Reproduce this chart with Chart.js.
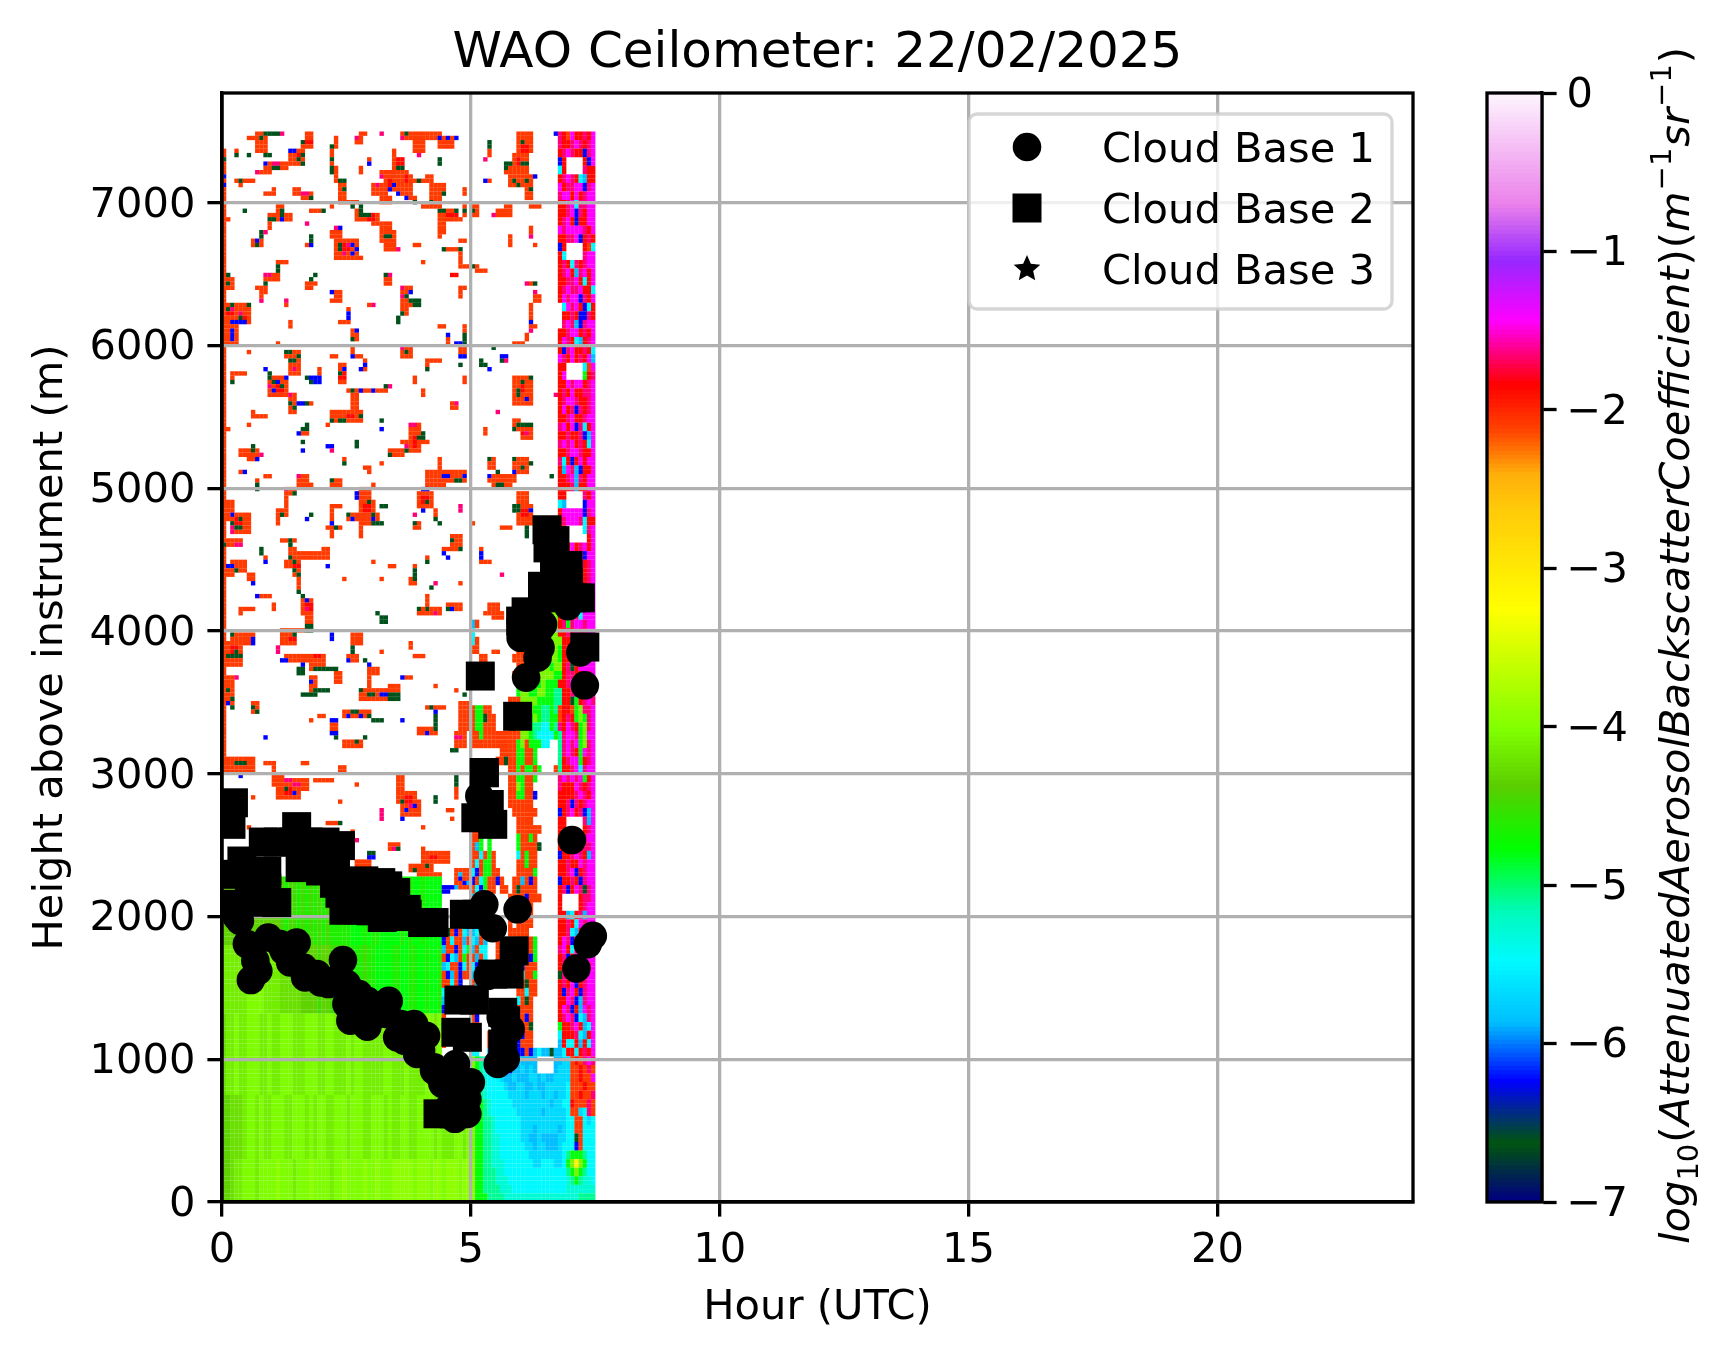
<!DOCTYPE html>
<html><head><meta charset="utf-8">
<style>html,body{margin:0;padding:0;background:#fff}canvas{position:absolute;top:0}</style>
<script src="https://cdn.jsdelivr.net/npm/chart.js@4"></script></head>
<body><canvas id="main" width="1726" height="1358" style="left:0"></canvas>
<canvas id="cbar" width="326" height="1358" style="left:1400px"></canvas>
<script>
// ---- marks ----
const chartTitle = "WAO Ceilometer: 22/02/2025";
const xAxisTitle = "Hour (UTC)";
const yAxisTitle = "Height above instrument (m)";
const legendLabels = ["Cloud Base 1","Cloud Base 2","Cloud Base 3"];
const xTicks = [0,5,10,15,20];
const yTicks = [0,1000,2000,3000,4000,5000,6000,7000];
const colorTicks = [-7,-6,-5,-4,-3,-2,-1,0];
const cloudBase1Hours =   [.58,.73,.5,.93,1.17,1.5,1.37,1.67,1.98,2.43,2.35,2.75,2.5,2.58,2.92,3.35,3.12,3.66,3.86,4.1,4.0,4.26,4.43,4.7,5.0,4.93,4.68,4.43,.36,.29,5.27,5.44,5.94,5.34,7.03,7.45,7.35,7.12,5.54,5.7,5.8,5.6,5.17,7.29,7.2,6.11,6.34,6.4,6.45,6.0,6.95,7.2,6.25,1.91,2.14,1.64,1.24,.67,2.51,2.92,2.72,3.59,3.32,3.72,3.52,3.92,4.26,4.39,4.66,4.93,4.66,4.56,3.86,6.4,6.0];
const cloudBase1Heights = [1555,1620,1807,1853,1807,1818,1678,1573,1538,1695,1573,1457,1387,1270,1228,1410,1317,1130,1247,1165,1060,944,828,967,839,618,583,618,1970,2000,2086,1918,2051,1585,2536,1865,1807,1636,967,1002,1212,1293,2844,3620,3850,3674,3814,3884,4047,4070,4175,4240,4120,1597,1527,1643,1760,1690,1527,1410,1340,1247,1317,1130,1154,1037,921,874,804,723,688,664,1154,4023,3953];
const cloudBase2Hours =   [5.19,5.94,5.27,7.29,6.53,6.69,6.55,6.78,6.68,6.95,6.96,7.2,7.02,6.44,6.68,6.68,6.11,6,5.27,5.37,5.1,5.44,.23,.18,1.5,.83,1.13,1.43,1.73,2.07,.4,.16,2.18,2.28,2.85,3.19,3.33,3.49,2.72,2.45,1.1,.23,.56,.9,1.57,1.98,4.03,3.72,4.26,3.0,3.22,4.87,5.13,5.87,5.77,5.44,4.76,5.07,4.7,4.93,4.34,4.66,5.64,5.64,5.7,2.26,2.37,2.57,2.77,3.51,2.38,1.8,2.25,2.5,2.9,3.3,3.7,.55,.6,.9];
const cloudBase2Heights = [3685,3403,3009,3888,4710,4634,4583,4459,4513,4459,4342,4233,4233,4314,4324,4233,4135,4070,3007,2785,2692,2646,2797,2646,2630,2522,2522,2522,2522,2522,2389,2296,2459,2343,2250,2238,2215,2168,2110,2044,2098,2086,2250,2319,2343,2319,1958,2016,1958,2040,1993,2016,2016,1760,1597,1597,1415,1415,1189,1154,618,618,1329,1107,1270,2233,2163,2047,2047,2000,2497,2430,2360,2200,2150,2100,2050,2100,2150,2200];
const cloudBase3Hours = [];
const cloudBase3Heights = [];

// log10 backscatter class of each letter used in the cell tables
const cellClasses = {O:-2.1,R:-1.88,P:-1.66,M:-1.45,C:-5.5,Q:-5.3,T:-5.1,A:-5.7,S:-5.88,B:-6.25,D:-6.62,G:-4.8,L:-4.1,Y:-3.1};
// green layer levels, digit -> log10 backscatter
const greenLevels = [-4.8,-4.65,-4.5,-4.35,-4.25,-4.15,-4.05,-3.95,-3.85,-3.7];
const heightTop = 7500, heightStep = 30, hourStep = 1/12;

// orange noise patches: [firstCol,lastCol,firstRow,lastRow] (5-min columns, 30 m rows counted from the top)
const orangeCells = [[8,10,0,0],[6,10,1,1],[8,10,2,4],[20,21,0,1],[19,21,2,3],[16,19,4,7],[10,15,7,8],[8,11,9,9],[0,0,4,16],[3,3,4,4],[3,7,11,11],[4,4,12,12],[10,12,14,14],[12,12,13,13],[17,18,13,14],[19,21,14,15],[27,27,1,3],[26,26,4,9],[27,27,8,11],[28,29,11,16],[28,32,16,16],[33,34,0,0],[32,33,1,2],[35,35,6,7],[33,33,8,9],[41,41,4,5],[41,43,6,8],[38,44,9,10],[39,45,10,11],[36,45,12,13],[36,39,14,14],[42,45,14,14],[38,40,15,16],[44,46,15,15],[46,50,11,11],[49,50,10,11],[50,53,12,13],[50,52,14,16],[58,58,13,14],[43,52,0,1],[46,48,2,4],[52,55,1,3],[64,64,4,5],[71,74,0,4],[70,73,5,9],[68,73,8,9],[69,74,10,12],[73,74,13,15],[64,64,11,11],
[26,26,17,17],[21,24,18,18],[13,14,17,20],[11,16,19,20],[11,11,21,22],[9,10,23,23],[7,9,25,26],[0,0,17,50],[1,1,20,20],[20,21,26,26],[32,33,18,20],[34,37,19,20],[36,37,21,21],[38,40,21,24],[38,41,23,25],[39,41,26,27],[40,42,27,27],[26,28,23,24],[27,32,25,29],[33,33,29,29],[46,47,26,26],[48,48,30,30],[52,55,18,20],[55,57,20,20],[48,52,17,17],[52,53,21,23],[52,52,24,24],[58,58,17,19],[60,61,17,19],[57,58,25,25],[53,57,27,27],[57,57,28,30],[57,61,31,31],[61,63,32,32],[66,69,18,19],[68,69,17,18],[69,69,24,26],[74,74,22,24],[75,75,26,26],[74,76,17,17],
[13,15,30,30],[10,13,33,34],[8,10,36,36],[9,10,37,37],[9,9,38,39],[1,2,34,36],[20,21,35,36],[22,22,35,35],[27,28,37,39],[26,26,39,39],[39,40,33,35],[55,56,33,33],[43,45,36,37],[43,44,38,42],[45,47,40,40],[57,58,36,36],[57,57,37,38],[74,74,35,35],[75,76,38,39],[74,74,40,43],[74,75,45,45],[73,73,47,48],[70,72,49,49],[30,30,41,41],[28,30,44,44],[35,36,40,40],[16,16,44,45],[15,15,40,40],[0,6,40,44],[0,3,45,49],[13,13,49,49],[31,32,46,48],[52,53,45,45],[58,58,45,49],[54,54,48,49],
[6,6,51,51],[15,18,51,52],[16,18,53,56],[26,27,52,52],[31,31,50,51],[32,33,52,52],[34,34,53,55],[43,45,50,52],[49,52,53,53],[49,49,54,54],[57,58,50,51],[28,29,54,58],[23,23,55,56],[2,5,56,56],[2,2,57,58],[11,15,57,61],[46,46,57,58],[58,58,57,58],[70,74,57,63],[30,39,60,60],[31,32,61,65],[26,33,65,67],[16,17,61,65],[18,21,63,63],[48,48,60,61],[55,56,63,64],[7,7,65,66],[8,10,66,66],[6,6,68,68],[25,25,68,68],[45,47,68,69],[45,47,70,74],[70,71,67,69],[72,74,69,71],[63,63,69,70],[0,1,69,69],[19,20,69,70],[4,6,74,74],[0,0,51,83],
[4,8,74,75],[6,8,75,76],[40,43,74,75],[43,49,72,72],[29,29,76,76],[38,38,77,77],[34,35,78,78],[35,35,79,79],[4,4,79,79],[10,11,80,80],[18,20,80,81],[18,21,82,82],[26,28,81,82],[36,36,82,82],[8,8,81,81],[52,52,76,79],[49,58,79,81],[49,53,82,82],[64,65,76,78],[64,70,80,81],[65,69,82,82],[70,73,76,79],
[15,17,83,84],[33,35,83,86],[33,36,86,90],[30,37,89,90],[33,33,92,94],[33,38,91,91],[47,50,84,87],[51,51,88,89],[0,2,86,88],[2,6,89,93],[1,1,88,90],[15,15,85,87],[13,15,88,89],[13,13,90,91],[26,28,87,87],[26,26,88,90],[25,28,92,92],[26,26,93,94],[46,47,91,92],[60,60,91,91],[67,69,92,92],[71,73,84,86],[71,74,87,91],[14,17,95,95],[16,17,97,98],[16,25,98,99],[24,25,97,98],[15,18,100,101],[17,18,102,103],[0,4,95,96],[10,10,99,99],[2,5,100,102],[0,2,101,103],[6,7,103,104],[36,36,100,100],[40,41,101,101],[49,49,99,99],[46,46,101,101],[45,46,104,105],[29,29,104,104],[38,38,104,104],[55,57,94,96],[53,56,97,97],[62,62,97,97],[62,64,100,100],[57,57,105,105],[49,49,108,112],[47,52,111,112],[54,57,110,111],[18,18,104,107],[19,21,109,112],[20,21,112,116],[9,11,108,108],[4,7,111,111],[4,4,112,112],[12,12,110,111],[64,66,110,112],[63,65,112,112],[14,21,116,116],[0,0,84,149],
[2,7,117,119],[1,4,119,124],[0,2,127,133],[14,17,117,119],[31,33,117,119],[30,32,122,123],[38,38,121,121],[45,45,119,120],[46,48,122,122],[15,24,122,123],[21,24,124,125],[27,28,126,128],[21,22,127,130],[35,37,125,126],[35,35,126,130],[33,42,130,132],[40,42,129,130],[44,45,127,127],[51,51,129,129],[56,56,130,130],[57,59,133,139],[56,58,140,143],[49,53,134,134],[47,51,139,140],[23,24,136,136],[21,21,137,137],[26,27,138,139],[29,35,135,136],[36,38,137,137],[29,33,142,143],[1,7,146,149],[1,4,148,148],[10,12,147,147],[12,12,148,149],[19,20,147,147],[28,29,148,149],[7,8,133,135],[65,66,121,121],
[12,14,150,152],[15,20,151,153],[13,18,153,155],[22,26,151,151],[7,7,155,155],[28,28,156,156],[32,32,152,152],[42,43,150,154],[42,46,154,156],[43,47,156,159],[48,48,162,162],[54,55,158,158],[55,55,160,160],[56,56,153,155],[6,6,162,162],[25,28,161,161],[31,31,163,163],[32,35,170,171],[32,33,172,172],[40,42,166,167],[48,48,167,168],[48,54,168,170],[45,50,171,172],[47,52,173,176],[56,59,172,176]];
const redCells = [[20,21,2,2],[18,18,5,6],[42,43,6,7],[40,40,11,13],[44,44,10,11],[72,73,3,4],[71,71,6,7],[35,36,19,20],[29,30,26,27],[54,56,19,19],[55,56,33,33],[1,2,41,42],[5,5,43,43],[28,29,56,57],[13,14,59,60],[72,72,59,60],[30,31,66,66],[46,46,71,73],[72,73,70,70],[34,35,87,88],[48,49,85,86],[3,4,90,91],[72,73,88,89],[17,18,101,101],[20,21,110,111],[16,17,118,118],[2,3,120,121],[22,23,122,122],[35,36,131,131],[4,5,147,147],[15,16,153,154],[44,45,155,156],[50,51,169,169]];
const darkCells = [[10,0],[11,0],[12,0],[13,0],[9,1],[10,5],[11,5],[19,2],[19,5],[18,6],[19,7],[12,8],[13,8],[3,5],[4,11],[26,3],[26,6],[26,8],[26,9],[28,11],[29,11],[29,13],[44,0],[42,8],[43,8],[47,11],[46,16],[53,14],[50,16],[52,6],[52,7],[64,2],[64,3],[72,2],[68,7],[69,7],[68,8],[70,11],[71,12],[73,11],[74,13],[72,7],[73,7],[21,15],[6,5],[0,6],
[5,18],[24,18],[14,18],[14,19],[11,20],[12,20],[9,23],[9,24],[8,26],[21,24],[21,25],[31,17],[33,17],[33,18],[33,19],[34,19],[35,19],[39,24],[40,24],[28,26],[28,27],[52,18],[53,18],[56,18],[58,18],[60,18],[53,27],[57,27],[60,31],[13,31],[13,32],[10,35],[1,33],[1,35],[22,33],[21,34],[39,33],[44,38],[45,39],[46,39],[47,39],[46,40],[47,40],[43,42],[42,43],[42,44],[2,40],[6,40],[1,41],[4,43],[31,48],[58,49],[58,47],[58,48],[75,35],[65,50],
[15,51],[16,51],[18,52],[16,53],[17,53],[44,51],[49,55],[57,54],[62,53],[62,54],[63,54],[67,53],[28,56],[11,56],[2,58],[11,57],[12,58],[14,59],[20,57],[21,58],[72,58],[74,57],[71,60],[71,61],[31,60],[39,59],[26,67],[28,67],[29,67],[33,66],[16,63],[17,64],[20,63],[38,67],[20,68],[19,69],[20,69],[47,71],[48,71],[48,70],[71,68],[72,68],[73,68],[74,68],[70,69],[19,72],[32,72],[32,73],[44,74],[7,74],[7,73],
[40,75],[44,73],[29,77],[26,81],[8,82],[8,83],[56,81],[57,81],[64,76],[66,79],[66,82],[67,82],[70,76],[72,78],[74,77],[79,80],[17,84],[35,86],[36,89],[30,89],[36,91],[37,91],[38,91],[38,87],[39,87],[49,86],[51,90],[4,90],[2,91],[3,92],[4,92],[14,89],[21,89],[27,92],[46,91],[52,91],[70,87],[71,87],[70,88],[71,88],[73,92],[73,93],[73,94],[16,95],[16,96],[16,99],[17,100],[17,102],[18,103],[3,102],[0,96],[9,97],[9,98],[49,100],[46,102],[46,103],[46,104],[55,95],[57,97],[50,106],[47,111],[49,111],[54,111],[18,107],[19,108],[20,115],[21,115],[20,116],[21,116],[37,112],[38,113],[39,113],[38,114],[39,114],
[2,117],[3,121],[1,122],[2,122],[3,122],[4,122],[1,130],[2,132],[2,134],[17,117],[31,120],[31,121],[18,125],[19,125],[22,125],[23,125],[24,125],[25,125],[26,125],[27,125],[18,126],[19,126],[22,130],[23,130],[24,130],[25,130],[19,131],[20,131],[21,131],[22,131],[34,123],[33,130],[35,131],[36,131],[40,131],[41,131],[42,131],[40,132],[41,132],[42,132],[58,131],[50,134],[51,136],[51,137],[51,138],[51,139],[55,144],[56,144],[7,134],[8,135],[31,135],[32,135],[35,136],[27,141],[34,141],[32,142],[3,147],[4,147],[5,147],[36,137],[37,137],[38,137],
[15,153],[43,156],[51,155],[51,156],[56,150],[56,151],[56,152],[28,161],[31,164],[35,168],[36,168],[42,167],[46,172],[49,171],[48,174]];
const blueCells = [[16,4],[17,4],[10,7],[52,1],[54,1],[56,1],[41,12],[40,13],[42,14],[44,15],[75,10],[63,11],[80,0],[0,10],[0,12],[35,7],[14,20],[8,25],[21,26],[28,22],[31,26],[32,27],[31,28],[45,37],[26,37],[30,42],[30,43],[74,44],[2,44],[3,44],[4,44],[5,44],[2,46],[2,47],[2,48],[32,46],[54,47],[56,49],[57,49],
[31,52],[34,54],[33,55],[57,52],[58,52],[64,55],[67,52],[68,52],[29,55],[10,55],[13,58],[15,57],[12,60],[21,57],[22,57],[23,57],[22,58],[23,58],[73,62],[33,60],[36,60],[18,63],[19,63],[38,69],[18,70],[25,73],[8,76],[19,74],[26,73],[5,79],[53,80],[54,80],[58,80],[64,80],[70,79],[32,84],[32,85],[31,90],[36,90],[48,83],[49,83],[48,88],[2,89],[20,90],[26,91],[74,88],[25,101],[10,100],[1,101],[2,101],[7,105],[53,98],[54,99],[62,98],[62,99],[8,108],[20,109],[55,111],
[7,118],[7,119],[26,117],[26,118],[30,123],[14,123],[15,123],[19,124],[21,128],[35,124],[38,131],[39,131],[43,127],[1,133],[51,135],[49,140],[26,137],[27,137],[26,140],[27,140],[30,136],[33,136],[43,137],[10,141],[4,150],[17,154],[44,158],[46,157],[43,160],[35,169],[36,169],[52,176],[53,176],[54,176],[55,176],[52,177],[53,177],[54,177],[45,175],[44,176],[57,174],[58,175]];
const pinkCells = [[14,0],[13,7],[12,7],[8,9],[32,1],[43,1],[47,5],[63,6],[38,10],[37,12],[38,0],[19,14],[20,14],[20,21],[10,23],[65,19],[74,24],[30,26],[29,28],[42,27],[27,22],[10,33],[11,33],[9,39],[40,33],[43,36],[43,38],[73,35],[75,37],[36,40],[15,39],[2,41],[4,42],[74,46],[43,50],[17,55],[68,53],[11,59],[40,59],[80,61],[16,61],[66,65],[45,68],[46,68],[44,73],[73,70],[56,63],[9,75],[26,74],[18,80],[15,83],[46,89],[57,87],[57,88],[2,92],[2,93],[3,96],[4,96],[67,103],[51,105],[51,112],[20,111],[3,127],[13,120],[13,121],[56,141],[57,141],[15,151],[16,151],[17,152],[18,152],[45,157],[41,167],[38,158],[38,159],[38,160],[32,165]];
const cyanCells = [[44,174],[45,174],[46,174],[44,175],[46,176],[49,175],[50,174],[57,173],[59,175],[56,176]];

// dense strip: 2-row bands, columns 81..89, rows 0..110
const stripBands = ["PROMRRPRM","PRRPMPRPM","RPMPRRBPM","BR    RBM","CR    PRR","RPMPRCSRR","MRPPMMBPM","PMMRMRPMM","RRPMCPPMM","RRPMBPRMM","RPMRBRRMM","MPMMMMPRM","RRPPMBRPR","BR    ROC","RC    PMM","RPRCPRPMM","RPMRSPMRM","RRPPMRCRM","RPMPPMRRC","RMPMMBPRM"," CMPMRBCR"," RRPRBBPR"," PMPSBPMM","RRPMMRPRM","RMPRCSRPM","RBPMRRPRC","MPRMRPRMS","RR    COM","RM    GRP","RRMPMMRPM","RPRMRRPPM","RPMMPRRPM","RMRPBPRPM","RRPMRRPMM","PMRMBPCRM","RRPRRPBSM","PMPMRPRCM","RRPMMPRRM","PCRBRMRMM","RSMPSBRRM","RRPMSPRMM","RRRPSRRMM","RR    PRM","CS    BMM","RMMMMMBPM","RPMMMPCRR","RR    CPM","RP     RM","PMRMRPMRM","RMPMPPBMM","RPMPMBRPM","RPMRPRRPM","MPRRPMRPM","RPRMPPRMM","RPMPBRMMM","RMPRPSRMM"];
// mixed area: 2-row bands from row 112 to 214; columns 60..80 | columns 81..89
const mixedBands = ["     OOO   OR   GG LL|RRPDPCMMM","SO         OR    GLLL|RPGPMMPMM","C           O    LLLL|RRPRMPPMM","CO         PO   LLLLL|LRRDDBPMM","OO         OOG  GLLLL|GRRPMSRPM","  OO      OOOT  LLLLL|GRRPMCPRM","           OOO GLLLGL|LRPDRMMMM","          OOOOGGLLLLG|GRPPRRMPM","           OOGGLGLGGG|RRPMPRMMM","           GLLGGLLGGT|TRRPBSMPM","         OOOLLLLGGGGT|TRRDGRPMP","OGGOO   OOOLLLLGGTTGT|ORROGLPPM","OGGDOO   OOLLGGLGTTGG|ORPRGLGPM","OGGOOO   OOLGLGTTCCGT|PRMPRGLPM","OOGOOOOOOOOOLLGTCCCCG|TPMMPGLMM","OOOOOOOOOOOGLOGGGCC  |TPMPMGLPM","       OOOOGGOOG     |TPMPRGMPM","      OODOOGGOOG     |TRPMMGRPM","OO       OOGOGGOG   O|TRRPMCPMM","OOG      OOGGOOG     |PMPMPMGRM","OOG      OOLGOO      |PRRRMPRPM","OGO      OOGGOOB     |RRRRPMPRM","OG O     OOOOOO      |RRPBPRPMM","OSOO      OOOOOO     |BRPMRPBSM","OO         OOOO      |RR    PSM","OOG        OOOOOO    |RR    RPM","OOG G      GOOGO     |RR    PMM","OSG G      GOOOOD    |RRPMMRPPM","OOCOGO     COGOO     |BRRPMPRSM","OCOGGO     OOGOO     |RRPRRMPMM","CBOGGOO    OOOOG     |RRPMBRPMM","BOCGOOBO  OOSOBO     |BRRPRBPMM","OCBGOO OO ODOOOO     |RPBRMPDPM","SOCG     OOOOBOOO    |R    RPPM","OSG      OOGOOO      |R    RPMM","COS      OOOO O      |RRSCRPSMM","SOBS OOO O OOOO      |RRPRCMPMM","SCOS OO  OOOOO       |RRPCSRCPM","CSOS  O    OOOOG     |RMPBRCPRM","SOCC  OOO  ODOOG     |PMRCPRSMM","OSOC  OOO  OOOBG     |RPBRMDPMM","CBOSO      OBOOO     |RPMBPRBPM","SCOO       OCOOG     |DPMMBPRMM","OS B       BODOO     |RPRMBRPMM","OCCO       OOCOO     |RBPMRBPMM","DSOB       CODO      |RRMPBSPMM","OO         OOOO      |RMPBRSMPM","OB         OOBO      |RPMPBCSPM","OO         OOOD      |GRRPMRSCM","OS  O      CBOO      |CRRRPCSRM","OB  O      BOOO      |SRCCRSRCM","CC  S     OBBOBSCSSDS|SCRRCRPRM"];
// mix beside the green layer: 2-row bands from row 186, columns 52..59
const edgeBands = ["OODOBOCS","OBOCOOSO","OSOOBOCG","COBCSOGO","OSCOOBCO","OOBSOBOO","BOOCOB  ","OCBOOS  ","OSOB    ","CB      ","CO      ","OB      ","OO      ","CO      "];
// low-level field: 2-row bands from row 216 to 248, columns 61..89
const lowFieldBands = ["GTCCCASSSSASSSS    SSAAOROPMP","GTCCCASSBSSASAS    SAAAOOROPO","GTQCCCASSASSSAASASSAAAAOOROOM","GTQCCCCASSAASSASSAAAAACOOOROO","GTQCCCCCAAAASAAASAASAACOOROOP","GGTQCCCCCAAAAAAAAASAACCROOOPO","GGTQCCCCCCAAAAAASAAAAACOOACPO","GGTTQCCCCCCAAAAAAAAAAACCOOCAC","GGTTQCCCCCCAAASAAAAASACCOOCCC","GGTTQQCCCCCAASSASSSSAACCDOCCC","GGTTQQCCCCCCAASAASSSACCCBOCCC","GGTTQQCCCCCCCAAAAAAAACTGGGTCC","GGTTQQQCCCCCCCAACCCAACGLYLGCC","GGTTTQQCCCCCCCCCCCCCCCTGLGTCC","GGTTTQQQCCCCCCCCCCCCCCQTGTQQC","GGTTTTQQQCCCCCCCCCCCCCQQQQQQQ","GGGTTTTQQQQQQQQQQQQQQQQQQTTTT"];
// green layer: digit per 5-min column, one string per height band
const greenBandRows = [[174,189],[190,205],[206,224],[225,239],[240,249]];
const greenBands = [
"33333333333333212212121212111110001011000001010010000",
"55555566665555444443333233222211112110000110011001001",
"4556556665565566655566655665556566555556655565555665666666666",
"3344456656556665566656566556665666556665655665566665655566566",
"3345566656666766656667666656676666766766677777677767767776777"];

// gist_ncar colour stops: [log10, r, g, b]
const colorStops = [[-7,0,0,128],[-6.64,0,85,15],[-6.25,0,0,255],[-5.88,0,190,255],[-5.49,0,250,255],[-5.19,0,250,190],[-4.78,0,255,0],[-4.39,90,205,0],[-4.03,128,255,0],[-3.27,255,255,0],[-2.62,255,200,10],[-2.42,255,175,10],[-2.15,255,70,0],[-1.85,255,0,0],[-1.45,255,0,255],[-1.07,150,40,255],[-0.71,235,130,235],[0,254,248,254]];
function colorOf(v){
  for(let i=1;i<colorStops.length;i++){
    if(v<=colorStops[i][0]){const a=colorStops[i-1],b=colorStops[i],f=(v-a[0])/(b[0]-a[0]);
      return `rgb(${Math.round(a[1]+f*(b[1]-a[1]))},${Math.round(a[2]+f*(b[2]-a[2]))},${Math.round(a[3]+f*(b[3]-a[3]))})`;}
  }
  return 'rgb(254,248,254)';
}
// ---- build the cell table from the tables above ----
const cells = new Map();
const setCell=(c,r,v)=>{ if(c>=0&&c<90&&r>=0&&r<250) cells.set(c+','+r,v); };
function addRects(list,v){ for(const q of list){ if(q.length===2) setCell(q[0],q[1],v); else for(let c=q[0];c<=q[1];c++)for(let r=q[2];r<=q[3];r++) setCell(c,r,v);} }
addRects(orangeCells,cellClasses.O); addRects(redCells,cellClasses.R); addRects(darkCells,cellClasses.D); addRects(blueCells,cellClasses.B); addRects(pinkCells,cellClasses.P); addRects(cyanCells,cellClasses.S);
function addBands(bands,firstRow,firstCol){ bands.forEach((s,i)=>{ for(let k=0;k<s.length;k++){ const v=cellClasses[s[k]]; if(v!==undefined){ setCell(firstCol+k,firstRow+2*i,v); setCell(firstCol+k,firstRow+2*i+1,v);} } }); }
addBands(stripBands,0,81);
addBands(mixedBands.map(s=>{const [a,b]=s.split('|');return a.padEnd(21,' ')+b;}),112,60);
addBands(edgeBands,186,52);
addBands(lowFieldBands,216,61);
greenBands.forEach((s,i)=>{ const [r0,r1]=greenBandRows[i]; for(let c=0;c<s.length&&c<61;c++){ if(c>52&&r1<216) continue; for(let r=(c>52?Math.max(r0,216):r0);r<=r1;r++) setCell(c,r,greenLevels[+s[c]]); } });
const heatPoints=[], heatColors=[];
for(const [k,v] of cells){ const [c,r]=k.split(',').map(Number); heatPoints.push({x:(c+.5)*hourStep,y:heightTop-heightStep*(r+.5)}); heatColors.push(colorOf(v)); }
const zip=(xs,ys)=>xs.map((x,i)=>({x,y:ys[i]}));

const FONT="'DejaVu Sans'", FS=41.6, LW=3.3, TL=14.6;
Chart.defaults.font.family=FONT; Chart.defaults.color='#000'; Chart.defaults.animation=false;

// tick labels: matplotlib centres digits on the tick, Chart.js centres the em box
const nudgeLabels={id:'nudgeLabels',beforeDraw(ch){const s=ch.scales.y; if(s&&!s._nudged){s.getLabelItems().forEach(it=>{it.options.translation[1]+=3;});s._nudged=true;}}};
const underlay={id:'underlay',
  beforeDraw(ch){const c=ch.ctx;c.save();c.fillStyle='#fff';c.fillRect(0,0,ch.width,ch.height);c.restore();
    c.save();ch.getDatasetMeta(0).controller.draw();c.restore();},
  beforeDatasetDraw(ch,a){ if(a.index===0) return false; },
  afterDraw(ch){const c=ch.ctx,a=ch.chartArea;
    c.save();c.strokeStyle='#000';c.lineWidth=LW;c.strokeRect(a.left,a.top,a.right-a.left,a.bottom-a.top);
    // legend
    c.fillStyle='rgba(255,255,255,.8)';c.strokeStyle='rgba(204,204,204,.8)';c.lineWidth=LW;
    c.beginPath();c.roundRect(969,114,423,195,8);c.fill();c.stroke();
    c.fillStyle='#000';c.font=FS+"px "+FONT;c.textBaseline='alphabetic';c.textAlign='left';
    const ys=[147,208,269];
    legendLabels.forEach((t,i)=>c.fillText(t,1102,ys[i]+15));
    c.beginPath();c.arc(1027,ys[0],14.3,0,Math.PI*2);c.fill();
    c.fillRect(1012.5,ys[1]-14.5,29,29);
    c.beginPath();for(let i=0;i<10;i++){const R=i%2?6.5:14,th=-Math.PI/2+i*Math.PI/5;c.lineTo(1027+R*Math.cos(th),ys[2]+R*Math.sin(th));}c.closePath();c.fill();
    c.restore();}
};
new Chart(document.getElementById('main'),{type:'scatter',
  data:{datasets:[
    {label:'Backscatter',data:heatPoints,backgroundColor:heatColors,pointBackgroundColor:heatColors,pointStyle:'rect',pointRadius:3.1,pointBorderWidth:0,parsing:false,normalized:true},
    {label:legendLabels[0],data:zip(cloudBase1Hours,cloudBase1Heights),pointStyle:'circle',pointRadius:14.3,pointBackgroundColor:'#000',pointBorderWidth:0},
    {label:legendLabels[1],data:zip(cloudBase2Hours,cloudBase2Heights),pointStyle:'rect',pointRadius:20.5,pointBackgroundColor:'#000',pointBorderWidth:0},
    {label:legendLabels[2],data:zip(cloudBase3Hours,cloudBase3Heights),pointStyle:'star',pointRadius:14,pointBackgroundColor:'#000',pointBorderWidth:0}
  ]},
  options:{responsive:false,animation:false,devicePixelRatio:1,
    layout:{padding:{left:0,right:313,top:0,bottom:0}},
    events:[],
    plugins:{legend:{display:false},tooltip:{enabled:false},
      title:{display:true,text:chartTitle,fullSize:false,font:{size:50,weight:'normal',family:FONT},color:'#000',padding:{top:24,bottom:9}}},
    scales:{
      x:{type:'linear',min:0,max:23.93,afterFit(s){s.height=156;},afterBuildTicks(s){s.ticks=xTicks.map(v=>({value:v}));},
        ticks:{maxRotation:0,autoSkip:false,padding:10,font:{size:FS,family:FONT},color:'#000',callback:v=>String(v)},
        grid:{color:'#b0b0b0',lineWidth:LW,tickLength:TL,tickWidth:LW,tickColor:'#000'},border:{color:'#000',width:LW},
        title:{display:true,text:xAxisTitle,font:{size:FS,family:FONT},color:'#000',padding:{top:0,bottom:25}}},
      y:{type:'linear',min:0,max:7770,afterFit(s){s.width=222;},afterBuildTicks(s){s.ticks=yTicks.map(v=>({value:v}));},
        ticks:{autoSkip:false,padding:12,font:{size:FS,family:FONT},color:'#000',callback:v=>String(v)},
        grid:{color:'#b0b0b0',lineWidth:LW,tickLength:TL,tickWidth:LW,tickColor:'#000'},border:{color:'#000',width:LW},
        title:{display:true,text:yAxisTitle,font:{size:FS,family:FONT},color:'#000',padding:{top:26,bottom:0}}}
    }},
  plugins:[nudgeLabels,underlay]});

// ---- colour bar ----
const barSegments=[]; const barLevels=256;
for(let i=0;i<barLevels;i++){const a=-7+7*i/barLevels,b=-7+7*(i+1)/barLevels;
  barSegments.push({label:'level'+i,data:[[a,Math.min(0,b+0.01)]],backgroundColor:colorOf((a+b)/2),borderWidth:0,barPercentage:1,categoryPercentage:1,grouped:false});}
const cbLabel={id:'cbLabel',afterDraw(ch){const c=ch.ctx,a=ch.chartArea;
  c.save();c.strokeStyle='#000';c.lineWidth=LW;c.strokeRect(a.left,a.top,a.right-a.left,a.bottom-a.top);
  c.translate(289,1244);c.rotate(-Math.PI/2);c.fillStyle='#000';c.textBaseline='alphabetic';c.textAlign='left';
  if('fontKerning' in c) c.fontKerning='none';
  const it="italic "+FS+"px "+FONT,up=FS+"px "+FONT,sm="29px "+FONT;
  const segs=[['log',it,0,0],['10',sm,9,1],['(',up,0,1],['AttenuatedAerosolBackscatterCoefficient',it,0,1],[')',up,0,1],['(',up,0,0],['m',it,0,1],['\u22121',sm,-18,1],['sr',it,0,1],['\u22121',sm,-18,1],[')',up,0,0]];
  let x=0;for(const [t,f,dy,gap] of segs){c.font=f;c.fillText(t,x,dy);x+=c.measureText(t).width+gap;}
  c.restore();}};
new Chart(document.getElementById('cbar'),{type:'bar',
  data:{labels:['scale'],datasets:barSegments},
  options:{responsive:false,animation:false,devicePixelRatio:1,events:[],
    layout:{padding:{left:87,right:0,top:93,bottom:156}},
    plugins:{legend:{display:false},tooltip:{enabled:false},title:{display:false}},
    scales:{
      x:{display:false,stacked:false,grid:{display:false}},
      y:{position:'right',min:-7,max:0,afterFit(s){s.width=184;},
        afterBuildTicks(s){s.ticks=colorTicks.map(v=>({value:v}));},
        ticks:{autoSkip:false,padding:10,font:{size:FS,family:FONT},color:'#000',callback:v=>v<0?'\u2212'+Math.abs(v):String(v)},
        grid:{drawOnChartArea:false,tickLength:TL,tickWidth:LW,tickColor:'#000',color:'#000'},border:{color:'#000',width:LW}}
    }},
  plugins:[nudgeLabels,cbLabel]});
</script></body></html>
